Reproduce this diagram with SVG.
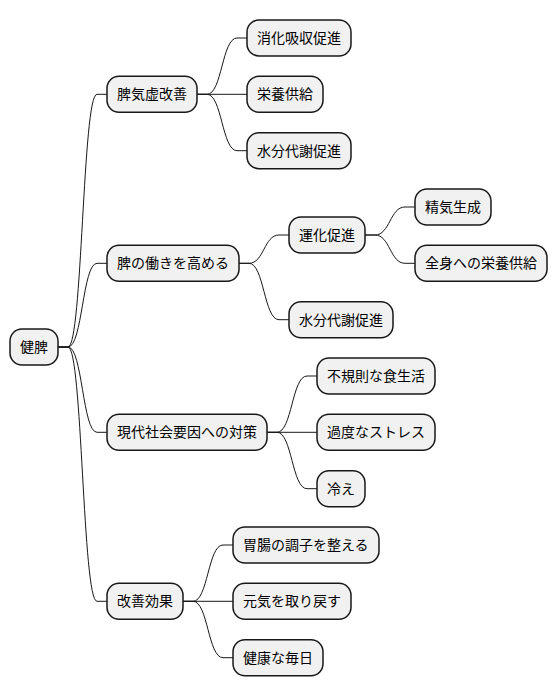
<svg xmlns="http://www.w3.org/2000/svg" width="558" height="696" viewBox="0 0 558 696">
<style>
.n rect{fill:#f1f1f1;stroke:#181818;stroke-width:1.5}
.n text{font-family:"Noto Sans CJK JP","Noto Sans CJK SC",sans-serif;font-size:14px;fill:#000}
.c path{fill:none;stroke:#181818;stroke-width:1}
</style>
<rect width="558" height="696" fill="#fff"/>
<g class="c" id="connectors">
<path d="M58,347 H68 C82.5,347 82.5,94.3 97,94.3 H107"/>
<path d="M58,347 H68 C82.5,347 82.5,263.3 97,263.3 H107"/>
<path d="M58,347 H68 C82.5,347 82.5,432.3 97,432.3 H107"/>
<path d="M58,347 H68 C82.5,347 82.5,601.3 97,601.3 H107"/>
<path d="M197,94.3 H207 C222,94.3 222,38 237,38 H247"/>
<path d="M197,94.3 H247"/>
<path d="M197,94.3 H207 C222,94.3 222,150.7 237,150.7 H247"/>
<path d="M239,263.3 H249 C264,263.3 264,235 279,235 H289"/>
<path d="M239,263.3 H249 C264,263.3 264,319.7 279,319.7 H289"/>
<path d="M365,235 H375 C390,235 390,207 405,207 H415"/>
<path d="M365,235 H375 C390,235 390,263.3 405,263.3 H415"/>
<path d="M267,432.3 H277 C292,432.3 292,376 307,376 H317"/>
<path d="M267,432.3 H317"/>
<path d="M267,432.3 H277 C292,432.3 292,488.7 307,488.7 H317"/>
<path d="M183,601.3 H193 C208,601.3 208,545 223,545 H233"/>
<path d="M183,601.3 H233"/>
<path d="M183,601.3 H193 C208,601.3 208,657.7 223,657.7 H233"/>
</g>
<g class="n" id="root"><rect x="10" y="329" width="48" height="36" rx="12"/><text x="20" y="352">健脾</text></g>
<g class="n" id="n1"><rect x="107" y="76.3" width="90" height="36" rx="12"/><text x="117" y="99.3">脾気虚改善</text></g>
<g class="n" id="n1a"><rect x="247" y="20" width="104" height="36" rx="12"/><text x="257" y="43">消化吸収促進</text></g>
<g class="n" id="n1b"><rect x="247" y="76.3" width="76" height="36" rx="12"/><text x="257" y="99.3">栄養供給</text></g>
<g class="n" id="n1c"><rect x="247" y="132.7" width="104" height="36" rx="12"/><text x="257" y="155.7">水分代謝促進</text></g>
<g class="n" id="n2"><rect x="107" y="245.3" width="132" height="36" rx="12"/><text x="117" y="268.3">脾の働きを高める</text></g>
<g class="n" id="n2a"><rect x="289" y="217" width="76" height="36" rx="12"/><text x="299" y="240">運化促進</text></g>
<g class="n" id="n2a1"><rect x="415" y="189" width="76" height="36" rx="12"/><text x="425" y="212">精気生成</text></g>
<g class="n" id="n2a2"><rect x="415" y="245.3" width="132" height="36" rx="12"/><text x="425" y="268.3">全身への栄養供給</text></g>
<g class="n" id="n2b"><rect x="289" y="301.7" width="104" height="36" rx="12"/><text x="299" y="324.7">水分代謝促進</text></g>
<g class="n" id="n3"><rect x="107" y="414.3" width="160" height="36" rx="12"/><text x="117" y="437.3">現代社会要因への対策</text></g>
<g class="n" id="n3a"><rect x="317" y="358" width="118" height="36" rx="12"/><text x="327" y="381">不規則な食生活</text></g>
<g class="n" id="n3b"><rect x="317" y="414.3" width="118" height="36" rx="12"/><text x="327" y="437.3">過度なストレス</text></g>
<g class="n" id="n3c"><rect x="317" y="470.7" width="48" height="36" rx="12"/><text x="327" y="493.7">冷え</text></g>
<g class="n" id="n4"><rect x="107" y="583.3" width="76" height="36" rx="12"/><text x="117" y="606.3">改善効果</text></g>
<g class="n" id="n4a"><rect x="233" y="527" width="146" height="36" rx="12"/><text x="243" y="550">胃腸の調子を整える</text></g>
<g class="n" id="n4b"><rect x="233" y="583.3" width="118" height="36" rx="12"/><text x="243" y="606.3">元気を取り戻す</text></g>
<g class="n" id="n4c"><rect x="233" y="639.7" width="90" height="36" rx="12"/><text x="243" y="662.7">健康な毎日</text></g>
</svg>
